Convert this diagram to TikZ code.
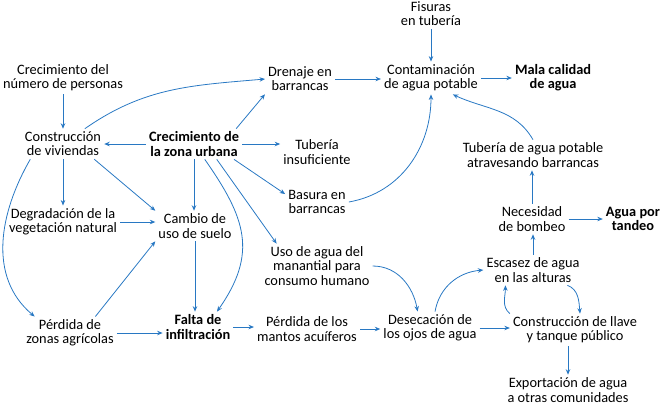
\documentclass[tikz,border=0pt]{standalone}
\usepackage{fontspec}
\setmainfont{Carlito}
\definecolor{linkblue}{RGB}{40, 120, 195}
\usepackage{tikz}
\usetikzlibrary{arrows.meta, positioning, calc}

\begin{document}
\begin{tikzpicture}[x=1bp, y=1bp,
  factor/.style={align=center, inner xsep=3pt, inner ysep=3pt, font=\fontsize{14.4}{14.2}\selectfont},
  keyfactor/.style={factor, font=\fontsize{14.4}{14.2}\selectfont\bfseries},
  link/.style={-{Stealth[length=5.5pt, width=4.5pt]}, linkblue, line width=0.8pt}]
  \useasboundingbox (0,0) rectangle (661,-406);

  % Water quality
  \node[factor] (fis) at (431,-14) {Fisuras\\en tubería};
  \node[factor] (cont) at (431,-78) {Contaminación\\de agua potable};
  \node[keyfactor] (mala) at (553,-78) {Mala calidad\\de agua};
  \node[factor] (dren) at (300,-79) {Drenaje en\\barrancas};
  \node[factor] (tubb) at (533,-155) {Tubería de agua potable\\atravesando barrancas};

  % Urban growth
  \node[factor] (pers) at (63,-78) {Crecimiento del\\número de personas};
  \node[factor] (viv) at (63,-144) {Construcción\\de viviendas};
  \node[keyfactor] (urb) at (194,-144) {Crecimiento de\\la zona urbana};
  \node[factor] (tubi) at (317,-152) {Tubería\\insuficiente};
  \node[factor] (bas) at (317,-202) {Basura en\\barrancas};
  \node[factor] (veg) at (63,-222) {Degradación de la\\vegetación natural};
  \node[factor] (suelo) at (195,-226) {Cambio de\\uso de suelo};
  \node[factor] (manan) at (317,-266) {Uso de agua del\\manantial para\\consumo humano};

  % Water scarcity
  \node[factor] (agri) at (70,-333) {Pérdida de\\zonas agrícolas};
  \node[keyfactor] (infil) at (198,-327) {Falta de\\infiltración};
  \node[factor] (mant) at (307,-329) {Pérdida de los\\mantos acuíferos};
  \node[factor] (ojos) at (430,-328) {Desecación de\\los ojos de agua};
  \node[factor] (esc) at (533,-270) {Escasez de agua\\en las alturas};
  \node[factor] (bomb) at (532,-219) {Necesidad\\de bombeo};
  \node[keyfactor] (tand) at (633,-219) {Agua por\\tandeo};
  \node[factor] (llave) at (575,-330) {Construcción de llave\\y tanque público};
  \node[factor] (expo) at (568,-390) {Exportación de agua\\a otras comunidades};

  % Links
  \draw[link] (fis.south) -- (cont.north);
  \draw[link] (dren.east) -- (dren.east -| cont.west);
  \draw[link] (cont.east) -- (cont.east -| mala.west);
  \draw[link] (pers.south) -- (viv.north);
  \draw[link] (viv.35) to[out=35, in=185] (dren.west);
  \draw[link] (urb.west) -- (viv.east);
  \draw[link] (urb.20) -- (dren.south west);
  \draw[link] (urb.east) -- (urb.east -| tubi.west);
  \draw[link] (urb.-21) -- (bas.166);
  \draw[link] (urb.-34) -- (manan.151);
  \draw[link] (urb.south) -- (urb.south |- suelo.north);
  \draw[link] (urb.-55) to[out=-55, in=55, looseness=1.2] (infil.39);
  \draw[link] (viv.-26) -- (suelo.north west);
  \draw[link] (viv.south) -- (viv.south |- veg.north);
  \draw[link] (viv.205) to[out=-120, in=140] (agri.155);
  \draw[link] (veg.east) -- (veg.east -| suelo.west);
  \draw[link] (agri.33) -- (suelo.south west);
  \draw[link] (agri.east) -- (agri.east -| infil.west);
  \draw[link] (suelo.south) -- (suelo.south |- infil.north);
  \draw[link] (infil.east) -- (infil.east -| mant.west);
  \draw[link] (mant.east) -- (mant.east -| ojos.west);
  \draw[link] (bas.east) to[out=10, in=-90] (cont.south);
  \draw[link] (tubb.north) to[out=120, in=-25] (cont.-37);
  \draw[link] (bomb.north) -- (bomb.north |- tubb.south);
  \draw[link] (bomb.east) -- (bomb.east -| tand.west);
  \draw[link] (esc.north) -- (esc.north |- bomb.south);
  \draw[link] (manan.east) to[out=0, in=100] (ojos.127);
  \draw[link] (ojos.73) to[out=80, in=185] (esc.west);
  \draw[link] (ojos.east) -- (ojos.east -| llave.west);
  \draw[link] (esc.-24) to[out=-20, in=95] (llave.73);
  \draw[link] (llave.north west) to[out=140, in=-90] (esc.209);
  \draw[link] (expo.north |- llave.south) -- (expo.north);
\end{tikzpicture}
\end{document}
